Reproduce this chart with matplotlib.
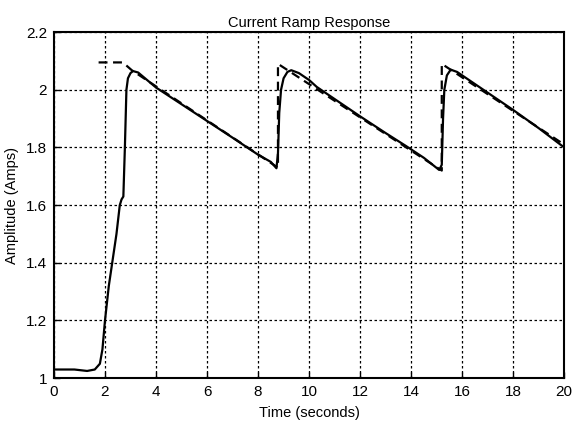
"""Current ramp response: measured current vs. reference ramp."""

import matplotlib

matplotlib.use("Agg")
import matplotlib.pyplot as plt

# measured response (solid)
time_resp = [0.0, 0.8, 1.3, 1.6, 1.8, 1.9, 2.0, 2.15, 2.3, 2.45, 2.58, 2.65, 2.72,
             2.78, 2.84, 2.9, 3.0, 3.1, 3.3, 4.0, 5.0, 6.0, 7.0, 8.0, 8.5,
             8.72, 8.78, 8.83, 8.9, 9.0, 9.15, 9.3, 9.6, 10.0, 10.3, 11.0, 12.0,
             13.0, 13.8, 14.5, 15.1, 15.2, 15.25, 15.3, 15.4, 15.55, 15.8, 16.0,
             17.0, 18.0, 19.0, 20.0]
amp_resp = [1.03, 1.03, 1.025, 1.03, 1.05, 1.1, 1.2, 1.32, 1.41, 1.5, 1.6, 1.62,
            1.63, 1.8, 2.0, 2.04, 2.058, 2.065, 2.06, 2.008, 1.95, 1.892, 1.834,
            1.775, 1.75, 1.728, 1.78, 1.92, 2.0, 2.04, 2.062, 2.068, 2.058,
            2.034, 2.01, 1.968, 1.908, 1.85, 1.805, 1.764, 1.722, 1.74, 1.9, 2.0,
            2.05, 2.07, 2.062, 2.05, 1.99, 1.93, 1.867, 1.80]

# reference ramp (dashed)
time_ref = [1.75, 2.7, 3.05, 8.78, 8.78, 15.2, 15.2, 20.0]
amp_ref = [2.095, 2.095, 2.068, 1.73, 2.09, 1.72, 2.09, 1.81]

plt.rcParams["font.family"] = ["Liberation Sans", "DejaVu Sans"]

fig = plt.figure(figsize=(5.74, 4.23), dpi=100)
ax = fig.add_axes([0.094, 0.106, 0.889, 0.818])

ax.plot(time_ref, amp_ref, color="black", linestyle=(0, (4, 2.5)), linewidth=1.6)
ax.plot(time_resp, amp_resp, color="black", linewidth=1.6)

ax.set_xlim(0, 20)
ax.set_ylim(1, 2.2)
ax.set_xticks(range(0, 21, 2))
ax.set_yticks([1, 1.2, 1.4, 1.6, 1.8, 2, 2.2])
ax.set_yticklabels(["1", "1.2", "1.4", "1.6", "1.8", "2", "2.2"])
ax.grid(True, color="black", linestyle=(0, (2, 2)), linewidth=0.9)
ax.tick_params(direction="in", length=4, labelsize=11, width=1, pad=5)
for spine in ax.spines.values():
    spine.set_linewidth(1.5)

ax.set_title("Current Ramp Response", fontsize=10.5, pad=4)
ax.set_xlabel("Time (seconds)", fontsize=10.5, labelpad=5)
ax.set_ylabel("Amplitude (Amps)", fontsize=10.5, labelpad=5)

fig.savefig("out.png", dpi=100)
